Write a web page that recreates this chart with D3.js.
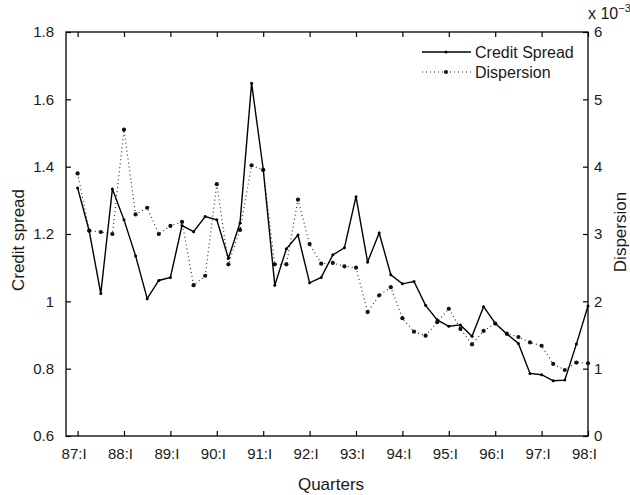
<!DOCTYPE html>
<html lang="en">
<head>
<meta charset="UTF-8">
<title>Credit spread and dispersion</title>
<script src="https://d3js.org/d3.v7.min.js"></script>
<style>
  body { margin: 0; background: #fff; }
  text { font-family: "Liberation Sans", Arial, sans-serif; fill: #1a1a1a; }
</style>
</head>
<body>
<svg id="canvas"></svg>
<script>
// quarterly data, 87:I .. 98:I
let yearLabels = ['87:I','88:I','89:I','90:I','91:I','92:I','93:I','94:I','95:I','96:I','97:I','98:I']

let creditSpread = [1.337,1.209,1.023,1.334,1.242,1.135,1.008,1.062,1.071,1.225,1.207,1.252,1.242,1.128,1.233,
  1.648,1.393,1.048,1.156,1.197,1.055,1.071,1.138,1.159,1.311,1.117,1.203,1.079,1.052,1.059,
  0.988,0.945,0.926,0.930,0.896,0.984,0.935,0.903,0.875,0.786,0.782,0.764,0.766,0.873,0.986]

// in units of 10^-3
let dispersion = [3.90,3.05,3.03,3.00,4.55,3.29,3.39,3.00,3.12,3.18,2.24,2.38,3.74,2.55,3.06,
  4.02,3.95,2.55,2.55,3.51,2.85,2.56,2.57,2.52,2.50,1.84,2.09,2.21,1.75,1.55,
  1.49,1.69,1.89,1.59,1.36,1.56,1.67,1.52,1.47,1.39,1.34,1.07,0.98,1.09,1.08]

let leftTicks = [0.6,0.8,1,1.2,1.4,1.6,1.8]
let rightTicks = [0,1,2,3,4,5,6]

let width = 630
let height = 495
let padLeft = 66, padRight = 588, padTop = 32, padBottom = 436

let svg = d3.select('svg').attr('width', width).attr('height', height)

let xScale = d3.scaleLinear().domain([-1, 44]).range([padLeft, padRight])
let yLeft = d3.scaleLinear().domain([0.6, 1.8]).range([padBottom, padTop])
let yRight = d3.scaleLinear().domain([0, 6]).range([padBottom, padTop])

let xTicks = yearLabels.map((d, i) => i * 4)

// frame
svg.append('rect')
   .attr('x', padLeft).attr('y', padTop)
   .attr('width', padRight - padLeft).attr('height', padBottom - padTop)
   .attr('fill', 'none').attr('stroke', '#000').attr('stroke-width', 1.3)

let xAxis = d3.axisBottom(xScale).tickValues(xTicks)
              .tickFormat((d, i) => yearLabels[i])
              .tickSizeInner(-5).tickSizeOuter(0).tickPadding(12)
let gx = svg.append('g').attr('transform', 'translate(0,' + padBottom + ')').call(xAxis)
gx.selectAll('text').attr('font-size', 15).attr('dx', -4)

let xTop = d3.axisTop(xScale).tickValues(xTicks).tickFormat('')
             .tickSizeInner(-5).tickSizeOuter(0)
svg.append('g').attr('transform', 'translate(0,' + padTop + ')').call(xTop)

let yAxisL = d3.axisLeft(yLeft).tickValues(leftTicks).tickFormat(d3.format('~g'))
               .tickSizeInner(-5).tickSizeOuter(0).tickPadding(12)
let gl = svg.append('g').attr('transform', 'translate(' + padLeft + ',0)').call(yAxisL)
gl.selectAll('text').attr('font-size', 15)

let yAxisR = d3.axisRight(yRight).tickValues(rightTicks).tickFormat(d3.format('d'))
               .tickSizeInner(-5).tickSizeOuter(0).tickPadding(6)
let gr = svg.append('g').attr('transform', 'translate(' + padRight + ',0)').call(yAxisR)
gr.selectAll('text').attr('font-size', 15)

svg.selectAll('.domain').remove()
svg.selectAll('.tick line').attr('stroke', '#000').attr('stroke-width', 1.2)

// axis titles
svg.append('text').attr('x', 331).attr('y', 490)
   .attr('text-anchor', 'middle').attr('font-size', 17).text('Quarters')
svg.append('text').attr('transform', 'translate(24,240) rotate(-90)')
   .attr('text-anchor', 'middle').attr('font-size', 17).text('Credit spread')
svg.append('text').attr('transform', 'translate(626,232) rotate(-90)')
   .attr('text-anchor', 'middle').attr('font-size', 17).text('Dispersion')

let expo = svg.append('text').attr('x', 588).attr('y', 19).attr('font-size', 16)
expo.append('tspan').text('x 10')
expo.append('tspan').attr('font-size', 11).attr('dy', -7).text('\u22123')

// series
let lineL = d3.line().x((d, i) => xScale(i)).y(d => yLeft(d))
let lineR = d3.line().x((d, i) => xScale(i)).y(d => yRight(d))

svg.append('path').datum(dispersion).attr('d', lineR)
   .attr('fill', 'none').attr('stroke', '#222').attr('stroke-width', 1.1)
   .attr('stroke-dasharray', '1,3')
svg.selectAll('.dis').data(dispersion).enter().append('circle')
   .attr('class', 'dis').attr('cx', (d, i) => xScale(i)).attr('cy', d => yRight(d))
   .attr('r', 2.1).attr('fill', '#111')

svg.append('path').datum(creditSpread).attr('d', lineL)
   .attr('fill', 'none').attr('stroke', '#000').attr('stroke-width', 1.4)
svg.selectAll('.cs').data(creditSpread).enter().append('circle')
   .attr('class', 'cs').attr('cx', (d, i) => xScale(i)).attr('cy', d => yLeft(d))
   .attr('r', 1.5).attr('fill', '#000')

// legend
let legend = svg.append('g')
legend.append('line').attr('x1', 422).attr('x2', 471).attr('y1', 52).attr('y2', 52)
      .attr('stroke', '#000').attr('stroke-width', 1.4)
legend.append('circle').attr('cx', 446).attr('cy', 52).attr('r', 1.5).attr('fill', '#000')
legend.append('text').attr('x', 475).attr('y', 58).attr('font-size', 16).text('Credit Spread')
legend.append('line').attr('x1', 422).attr('x2', 471).attr('y1', 72).attr('y2', 72)
      .attr('stroke', '#222').attr('stroke-width', 1.1).attr('stroke-dasharray', '1,3')
legend.append('circle').attr('cx', 446).attr('cy', 72).attr('r', 2.1).attr('fill', '#111')
legend.append('text').attr('x', 475).attr('y', 78).attr('font-size', 16).text('Dispersion')
</script>
</body>
</html>
